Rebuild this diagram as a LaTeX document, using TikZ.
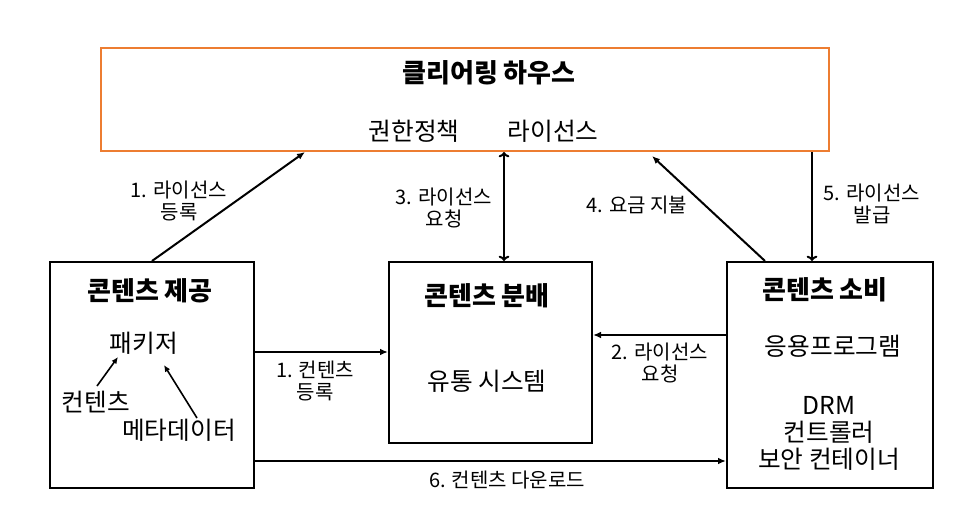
\documentclass[tikz,border=0pt]{standalone}
\usepackage{fontspec}
\setmainfont{Noto Sans CJK KR}
\usetikzlibrary{arrows.meta}
\begin{document}
\begin{tikzpicture}[x=0.75pt,y=-0.75pt,
  box/.style={draw, line width=1.5pt, rectangle, inner sep=0pt},
  ttl/.style={font=\fontsize{19.5pt}{22pt}\selectfont\bfseries, inner sep=0pt},
  body/.style={font=\fontsize{18.5pt}{20.25pt}\selectfont, inner sep=0pt, align=center},
  lbl/.style={font=\fontsize{15pt}{17pt}\selectfont, inner sep=0pt, align=center},
  arr/.style={line width=1.5pt, -{Latex[length=6pt,width=5pt]}},
  varr/.style={line width=1.5pt, -{To[length=4pt,width=8pt,line width=1.5pt]}},
  dvarr/.style={line width=1.5pt, {To[length=4pt,width=8pt,line width=1.5pt]}-{To[length=4pt,width=8pt,line width=1.5pt]}},
  sarr/.style={line width=1.2pt, -{Latex[length=5pt,width=4.5pt]}}
]
\useasboundingbox (0,0) rectangle (974,510);
\fill[white] (0,0) rectangle (974,510);
\definecolor{orng}{HTML}{ED7D31}

% boxes
\node[box, draw=orng, minimum width=546pt, minimum height=77.25pt] (ch) at (465,99.5) {};
\node[box, minimum width=153pt, minimum height=169.5pt] (prov) at (152,375) {};
\node[box, minimum width=152.25pt, minimum height=135.75pt] (dist) at (490.5,352.5) {};
\node[box, minimum width=154.5pt, minimum height=169.5pt] (cons) at (830,375) {};

% clearing house texts
\node[ttl] (cht) at (489,73) {클리어링 하우스};
\node[body] (chp) at (414,131) {권한정책};
\node[body] (chl) at (553,131) {라이선스};

% provider texts
\node[ttl] (pt) at (150,291) {콘텐츠 제공};
\node[body] (pk) at (144,343) {패키저};
\node[body] (pc) at (96,402) {컨텐츠};
\node[body] (pm) at (179,430) {메타데이터};
\draw[sarr] (97,386) coordinate (pcs) -- (118,357) coordinate (pke1);
\draw[sarr] (197,418) coordinate (pms) -- (164,365) coordinate (pke2);

% distribution texts
\node[ttl] (dt) at (487,296) {콘텐츠 분배};
\node[body] (ds) at (487,381) {유통 시스템};

% consumer texts
\node[ttl] (ct) at (825,290) {콘텐츠 소비};
\node[body] (ca) at (833,346) {응용프로그램};
\node[body] (cd) at (829,433) {DRM\\컨트롤러\\보안 컨테이너};

% connectors
\draw[arr] (prov.north) -- (ch.south -| 305,0);
\node[lbl] at (179,201) {1. 라이선스\\등록};

\draw[dvarr] (ch.south -| 504,0) -- (dist.north -| 504,0);
\node[lbl] at (444,208) {3. 라이선스\\요청};

\draw[arr] (cons.north -| 765,0) -- (652,156) coordinate (c4);
\node[lbl] at (637,205) {4. 요금 지불};

\draw[varr] (ch.south -| 812,0) -- (cons.north -| 812,0);
\node[lbl] at (872,204) {5. 라이선스\\발급};

\draw[arr] (prov.east |- 0,352) -- (dist.west |- 0,352);
\node[lbl] at (315,381) {1. 컨텐츠\\등록};

\draw[arr] (cons.west |- 0,335) -- (dist.east |- 0,335);
\node[lbl] at (660,363) {2. 라이선스\\요청};

\draw[arr] (prov.east |- 0,461) -- (cons.west |- 0,461);
\node[lbl] at (507,480) {6. 컨텐츠 다운로드};
\end{tikzpicture}
\end{document}
